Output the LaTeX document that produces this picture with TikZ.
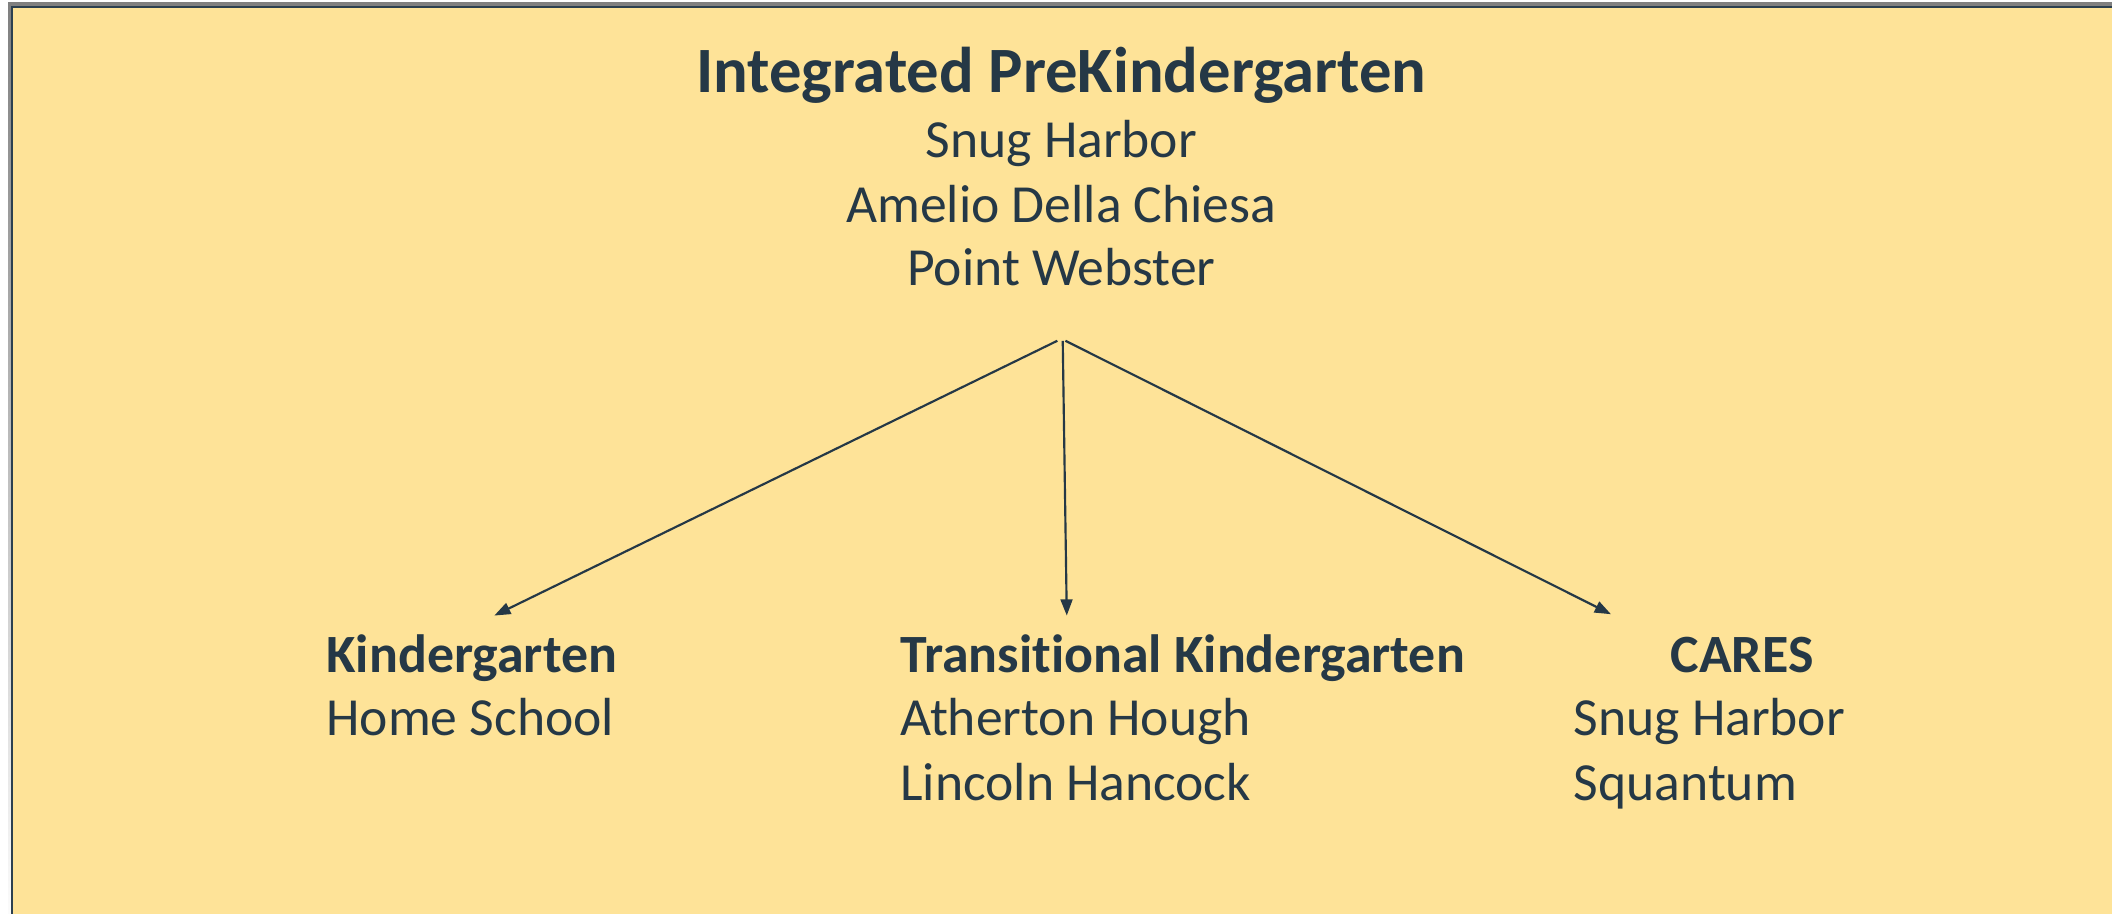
\documentclass[tikz,border=0pt]{standalone}
\usepackage{fontspec}
\setmainfont[Ligatures=NoCommon]{Carlito}
\usetikzlibrary{arrows.meta}
\definecolor{bgyellow}{HTML}{FEE398}
\definecolor{ink}{HTML}{253846}
\definecolor{frame}{HTML}{2C4050}
\definecolor{shade}{HTML}{DADADA}
\tikzset{
  titletext/.style={font=\fontsize{24}{28}\selectfont\bfseries, text=ink, inner sep=0pt, anchor=base},
  toptext/.style={font=\fontsize{19.9}{24}\selectfont, text=ink, inner sep=0pt, anchor=base},
  headtext/.style={font=\fontsize{20}{24}\selectfont\bfseries, text=ink, inner sep=0pt, anchor=base west},
  itemtext/.style={font=\fontsize{19.9}{24}\selectfont, text=ink, inner sep=0pt, anchor=base west},
  link/.style={draw=ink, line width=0.8pt, -{Triangle[length=6pt,width=4.4pt]}}
}
\begin{document}
\begin{tikzpicture}[x=0.5pt,y=-0.5pt]
\useasboundingbox (0,0) rectangle (1568,678);
\clip (0,0) rectangle (1568,678);
\fill[white] (0,0) rectangle (1568,678);
% shadow
\fill[shade] (6,2) rectangle (1580,700);
\fill[bgyellow, draw=frame, line width=0.8pt] (9,5) rectangle (1590,700);

% top block
\node[titletext] (title) at (788,69) {Integrated PreKindergarten};
\node[toptext] (t1) at (788,117) {Snug Harbor};
\node[toptext] (t2) at (788,165) {Amelio Della Chiesa};
\node[toptext] (t3) at (788,212) {Point Webster};

% bottom blocks
\node[headtext] (k) at (242,499) {Kindergarten};
\node[itemtext] (k1) at (242,546) {Home School};

\node[headtext] (tk) at (668,499) {Transitional Kindergarten};
\node[itemtext] (tk1) at (668,546) {Atherton Hough};
\node[itemtext] (tk2) at (668,594) {Lincoln Hancock};

\node[headtext] (cares) at (1240,499) {CARES};
\node[itemtext] (c1) at (1168,546) {Snug Harbor};
\node[itemtext] (c2) at (1168,594) {Squantum};

% connectors
\coordinate (sL) at (785,253);
\coordinate (sM) at (789,253);
\coordinate (sR) at (791,253);
\coordinate (eL) at (367,457);
\coordinate (eM) at (792,457);
\coordinate (eR) at (1196,456);
\draw[link] (sL) -- (eL);
\draw[link] (sM) -- (eM);
\draw[link] (sR) -- (eR);
\end{tikzpicture}
\end{document}
